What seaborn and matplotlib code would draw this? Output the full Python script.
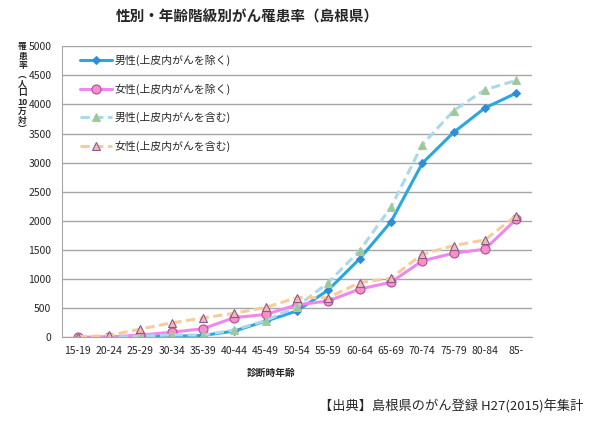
import matplotlib

matplotlib.use("Agg")

import matplotlib.pyplot as plt
import pandas as pd
import seaborn as sns

age_groups = ["15-19", "20-24", "25-29", "30-34", "35-39", "40-44", "45-49", "50-54",
              "55-59", "60-64", "65-69", "70-74", "75-79", "80-84", "85-"]
male_excl = [0, 5, 10, 20, 35, 110, 280, 455, 815, 1350, 1985, 2990, 3520, 3940, 4195]
female_excl = [0, 10, 40, 90, 150, 340, 395, 560, 627, 830, 948, 1315, 1447, 1515, 2030]
male_incl = [0, 5, 20, 45, 40, 129, 289, 530, 942, 1490, 2235, 3308, 3892, 4253, 4412]
female_incl = [10, 35, 145, 250, 335, 416, 515, 684, 684, 942, 1017, 1429, 1577, 1675, 2093]

labels = ["男性(上皮内がんを除く)", "女性(上皮内がんを除く)",
          "男性(上皮内がんを含む)", "女性(上皮内がんを含む)"]

sns.set_style("white")
plt.rcParams["font.family"] = ["Noto Sans CJK JP", "DejaVu Sans"]

df = pd.DataFrame({"age": age_groups, "m_ex": male_excl, "f_ex": female_excl,
                   "m_in": male_incl, "f_in": female_incl})

fig = plt.figure(figsize=(5.95, 4.38), dpi=100)
ax = fig.add_axes([0.104, 0.2295, 0.79, 0.665])

styles = [
    ("m_ex", dict(color="#29A8E0", linestyle="-", linewidth=2.2, marker="D", markersize=4,
                  markerfacecolor="#2E8ED3", markeredgecolor="#2E8ED3")),
    ("f_ex", dict(color="#EE88EE", linestyle="-", linewidth=2.2, marker="o", markersize=6.5,
                  markerfacecolor="#F590CC", markeredgecolor="#B0508A", markeredgewidth=0.8)),
    ("m_in", dict(color="#A9D9EB", linestyle=(0, (3, 1.5)), linewidth=2.2, marker="^", markersize=6,
                  markerfacecolor="#9CC99C", markeredgecolor="#A8C8A0", markeredgewidth=0.8)),
    ("f_in", dict(color="#F8CB9E", linestyle=(0, (3, 1.5)), linewidth=2.2, marker="^", markersize=6,
                  markerfacecolor="#F3B8B4", markeredgecolor="#8A5A8C", markeredgewidth=0.8)),
]
for (col, kw), lab in zip(styles, labels):
    sns.lineplot(data=df, x="age", y=col, ax=ax, label=lab, sort=False, **kw)

ax.set_ylim(0, 5000)
ax.set_xlim(-0.5, len(age_groups) - 0.5)
ax.set_yticks(range(0, 5001, 500))
ax.yaxis.grid(True, color="#A6A6A6", linewidth=1)
ax.set_axisbelow(True)
for s in ["top", "right"]:
    ax.spines[s].set_visible(False)
for s in ["left", "bottom"]:
    ax.spines[s].set_color("#A6A6A6")
ax.set_xticks(range(len(age_groups)))
ax.set_xticklabels(age_groups)
ax.set_xticks([i - 0.5 for i in range(len(age_groups) + 1)], minor=True)
ax.tick_params(axis="x", which="major", length=0, labelsize=7.5, pad=6)
ax.tick_params(axis="x", which="minor", length=4, color="#A6A6A6", direction="out")
ax.tick_params(axis="y", length=4, color="#A6A6A6", direction="out", labelsize=7.5)
ax.set_xlabel("")
ax.set_ylabel("")

leg = ax.legend(loc="upper left", bbox_to_anchor=(0.03, 0.985), frameon=False,
                fontsize=7.8, handlelength=2.9, labelspacing=1.6, borderaxespad=0,
                handletextpad=0.25)

fig.text(0.415, 0.962, "性別・年齢階級別がん罹患率（島根県）", fontsize=10.5,
         fontweight="bold", ha="center", va="center")

# vertical y-axis label, one glyph per row
ylab_chars = ["罹", "患", "率", "︵", "人", "口", "10", "万", "対", "︶"]
for i, ch in enumerate(ylab_chars):
    fig.text(0.038, 1 - (47 + i * 9.2) / 438, ch, fontsize=6.3, fontweight="bold",
             ha="center", va="center")

fig.text(0.455, 0.148, "診断時年齢", fontsize=7, fontweight="bold", ha="center", va="center")
fig.text(0.98, 0.072, "【出典】島根県のがん登録 H27(2015)年集計", fontsize=9.5,
         ha="right", va="center")

fig.savefig("out.png", dpi=100)
